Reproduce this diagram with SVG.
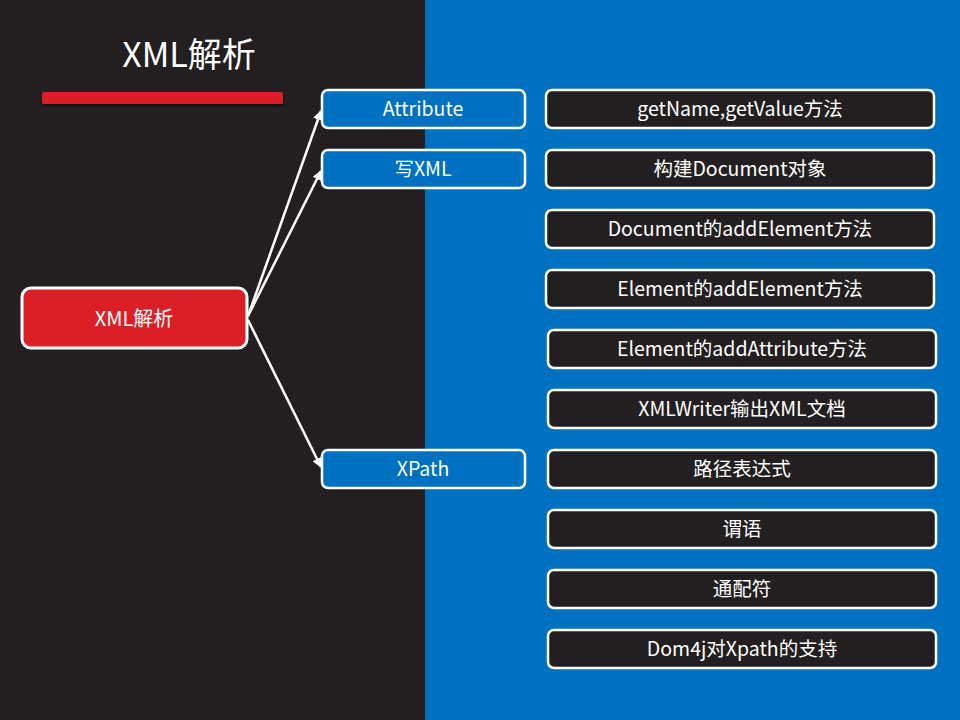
<svg xmlns="http://www.w3.org/2000/svg" width="960" height="720" viewBox="0 0 960 720">
<defs>
<style>
text{font-family:"Noto Sans CJK SC","Noto Sans",sans-serif;fill:#fff;text-anchor:middle;dominant-baseline:central}
.blue{fill:#0070c0;stroke:#fff;stroke-width:2.5}
.dark{fill:#231f20;stroke:#fff;stroke-width:2.5}
.lbl{font-size:19.5px}
.con{stroke:#fff;stroke-width:2.5;fill:none;marker-end:url(#arr)}
</style>
<marker id="arr" viewBox="0 0 10 10" refX="9" refY="5" markerWidth="4" markerHeight="4" orient="auto" markerUnits="strokeWidth">
<path d="M0,0 L10,5 L0,10 z" fill="#fff"/>
</marker>
<filter id="sh" x="-10%" y="-50%" width="120%" height="250%">
<feDropShadow dx="1" dy="2" stdDeviation="1.5" flood-color="#000" flood-opacity="0.6"/>
</filter>
</defs>
<rect x="0" y="0" width="425" height="720" fill="#231f20"/>
<rect x="425" y="0" width="535" height="720" fill="#0070c0"/>
<g id="title">
<text x="189" y="52" style="font-size:34px">XML解析</text>
<rect x="42" y="92" width="241" height="12" rx="2" fill="#dc1f26" filter="url(#sh)"/>
</g>
<g id="connectors">
<line class="con" x1="248" y1="316" x2="321" y2="111"/>
<line class="con" x1="248" y1="316" x2="321" y2="171"/>
<line class="con" x1="248" y1="320" x2="321" y2="467"/>
</g>
<g id="root">
<rect x="22" y="288" width="225" height="60" rx="9" fill="#dc1f26" stroke="#fff" stroke-width="3"/>
<text x="134" y="317" style="font-size:20px">XML解析</text>
</g>
<g id="n-attribute"><rect class="blue" x="322" y="90" width="203" height="38" rx="6"/><text class="lbl" x="423" y="107.5">Attribute</text></g>
<g id="n-write"><rect class="blue" x="322" y="150" width="203" height="38" rx="6"/><text class="lbl" x="423" y="167.5">写XML</text></g>
<g id="n-xpath"><rect class="blue" x="322" y="450" width="203" height="38" rx="6"/><text class="lbl" x="423" y="467.5">XPath</text></g>
<g id="d1"><rect class="dark" x="546" y="90" width="388" height="38" rx="6"/><text class="lbl" x="740" y="107.5">getName,getValue方法</text></g>
<g id="d2"><rect class="dark" x="546" y="150" width="388" height="38" rx="6"/><text class="lbl" x="740" y="167.5">构建Document对象</text></g>
<g id="d3"><rect class="dark" x="546" y="210" width="388" height="38" rx="6"/><text class="lbl" x="740" y="227.5">Document的addElement方法</text></g>
<g id="d4"><rect class="dark" x="546" y="270" width="388" height="38" rx="6"/><text class="lbl" x="740" y="287.5">Element的addElement方法</text></g>
<g id="d5"><rect class="dark" x="548" y="330" width="388" height="38" rx="6"/><text class="lbl" x="742" y="347.5">Element的addAttribute方法</text></g>
<g id="d6"><rect class="dark" x="548" y="390" width="388" height="38" rx="6"/><text class="lbl" x="742" y="407.5">XMLWriter输出XML文档</text></g>
<g id="d7"><rect class="dark" x="548" y="450" width="388" height="38" rx="6"/><text class="lbl" x="742" y="467.5">路径表达式</text></g>
<g id="d8"><rect class="dark" x="548" y="510" width="388" height="38" rx="6"/><text class="lbl" x="742" y="527.5">谓语</text></g>
<g id="d9"><rect class="dark" x="548" y="570" width="388" height="38" rx="6"/><text class="lbl" x="742" y="587.5">通配符</text></g>
<g id="d10"><rect class="dark" x="548" y="630" width="388" height="38" rx="6"/><text class="lbl" x="742" y="647.5">Dom4j对Xpath的支持</text></g>
</svg>
